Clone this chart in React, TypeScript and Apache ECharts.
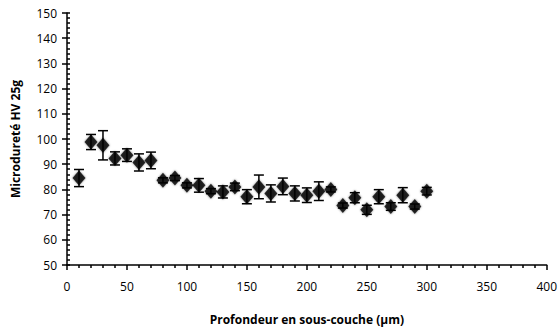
import React, { useEffect, useRef } from "react";
import * as echarts from "echarts";

const depths = [10, 20, 30, 40, 50, 60, 70, 80, 90, 100, 110, 120, 130, 140, 150, 160, 170, 180, 190, 200, 210, 220, 230, 240, 250, 260, 270, 280, 290, 300];
const hardness = [84.5, 98.8, 97.5, 92.3, 93.6, 90.7, 91.5, 83.6, 84.5, 81.6, 81.6, 79.3, 79.0, 81.0, 77.1, 81.0, 78.4, 81.2, 78.4, 77.7, 79.3, 80.0, 73.6, 76.7, 71.9, 77.1, 73.2, 77.7, 73.2, 79.3];
const errors = [3.4, 3.0, 5.8, 2.6, 2.5, 3.4, 3.3, 1.0, 1.0, 1.0, 2.7, 1.0, 2.4, 1.5, 2.8, 4.7, 3.4, 3.3, 3.0, 2.9, 3.7, 1.0, 1.0, 2.0, 1.8, 2.8, 1.5, 3.0, 1.0, 1.5];

const xTitle = "Profondeur en sous-couche (µm)";
const yTitle = "Microdureté HV 25g";

export default function App() {
  const ref = useRef<HTMLDivElement>(null);
  useEffect(() => {
    if (!ref.current) return;
    const chart = echarts.init(ref.current, null, { renderer: "svg" });
    const font = "'Open Sans', 'Noto Sans', sans-serif";
    const points = depths.map((d, i) => [d, hardness[i]]);
    const bars = depths.map((d, i) => [d, hardness[i] - errors[i], hardness[i] + errors[i]]);
    const tickStyle = { color: "#000", width: 1.5 };
    chart.setOption({
      animation: false,
      grid: { left: 67, right: 13, top: 13, bottom: 58 },
      xAxis: {
        type: "value",
        min: 0,
        max: 400,
        interval: 50,
        name: xTitle,
        nameLocation: "middle",
        nameGap: 48,
        nameTextStyle: { fontFamily: font, fontWeight: "bold", fontSize: 12, color: "#000" },
        axisLine: { lineStyle: { color: "#000", width: 1.5 } },
        axisTick: { show: true, length: 5, inside: false, lineStyle: tickStyle },
        minorTick: { show: true, splitNumber: 5, length: 3, lineStyle: tickStyle },
        axisLabel: { fontFamily: font, fontSize: 12, color: "#000", margin: 15 },
        splitLine: { show: false },
      },
      yAxis: [
        {
          type: "value",
          min: 50,
          max: 150,
          interval: 10,
          name: yTitle,
          nameLocation: "middle",
          nameGap: 46,
          nameRotate: 90,
          nameTextStyle: { fontFamily: font, fontWeight: "bold", fontSize: 12, color: "#000" },
          axisLine: { show: true, lineStyle: { color: "#000", width: 1.5 } },
          axisTick: { show: true, length: 5, lineStyle: tickStyle },
          axisLabel: { fontFamily: font, fontSize: 12, color: "#000", margin: 10 },
          splitLine: { show: false },
        },
        {
          type: "value",
          position: "left",
          min: 50,
          max: 150,
          interval: 10,
          axisLine: { show: false },
          axisTick: { show: true, inside: true, length: 3, lineStyle: tickStyle },
          minorTick: { show: true, splitNumber: 5, length: 3, lineStyle: tickStyle },
          axisLabel: { show: false },
          splitLine: { show: false },
        },
      ],
      series: [
        {
          type: "custom",
          data: bars,
          z: 1,
          renderItem: (params: any, api: any) => {
            const x = api.value(0);
            const lo = api.coord([x, api.value(1)]);
            const hi = api.coord([x, api.value(2)]);
            const cap = 5;
            const style = { stroke: "#000", lineWidth: 1.5 };
            return {
              type: "group",
              children: [
                { type: "line", shape: { x1: lo[0], y1: lo[1], x2: hi[0], y2: hi[1] }, style },
                { type: "line", shape: { x1: lo[0] - cap, y1: lo[1], x2: lo[0] + cap, y2: lo[1] }, style },
                { type: "line", shape: { x1: hi[0] - cap, y1: hi[1], x2: hi[0] + cap, y2: hi[1] }, style },
              ],
            };
          },
        },
        {
          type: "scatter",
          data: points,
          symbol: "diamond",
          symbolSize: [13, 15],
          z: 2,
          itemStyle: { color: "#000", shadowBlur: 2, shadowColor: "rgba(0,0,0,0.6)" },
        },
      ],
    });
    return () => chart.dispose();
  }, []);
  return <div ref={ref} style={{ width: 560, height: 330, position: "absolute", left: 0, top: 0 }} />;
}
